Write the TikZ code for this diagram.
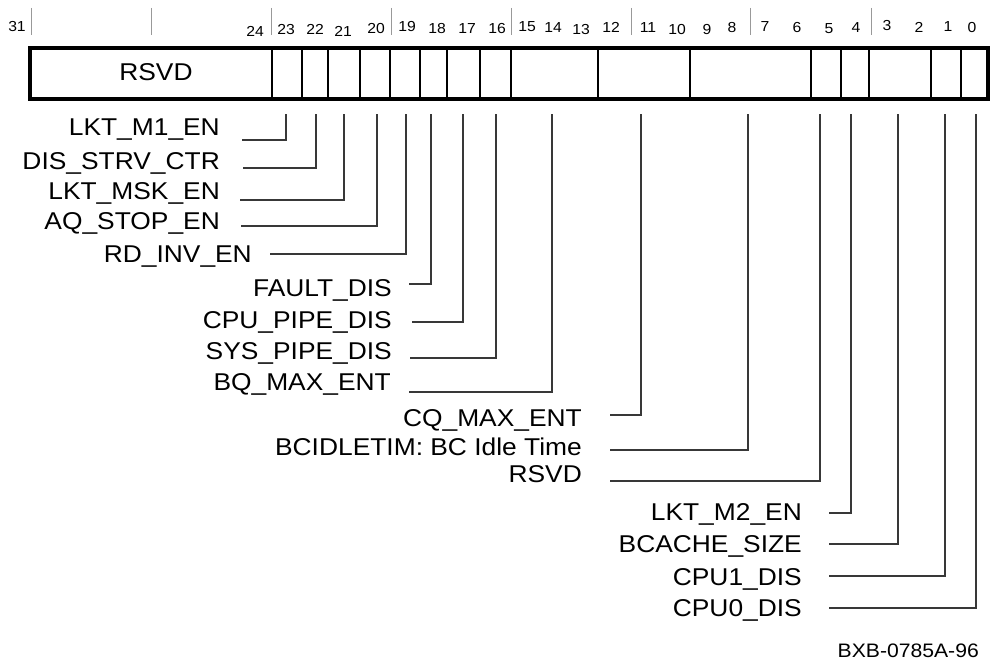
\documentclass[tikz,border=0pt]{standalone}
\usepackage{fontspec}
\setmainfont[FakeStretch=1.085]{Liberation Sans}
\begin{document}
\begin{tikzpicture}[x=1pt,y=-1pt,
  lbl/.style={anchor=base east,inner sep=0pt,font=\fontsize{24.3}{27}\selectfont},
  bitno/.style={anchor=base,inner sep=0pt,font=\fontsize{14.5}{16}\selectfont},
  conn/.style={draw=black!78,line width=1.3pt},
  tickmark/.style={draw=black!40,line width=1pt},
  divider/.style={draw=black,line width=1.2pt},
  outer/.style={draw=black,line width=4pt}]
\useasboundingbox (0,0) rectangle (990,660);

% top tick marks
\foreach \x in {31,151,271,391,511,631,750,871}
  \draw[tickmark] (\x,8) -- (\x,35);

% bit numbers
\foreach \n/\x/\y in {31/17/31.7,24/255/36.7,23/286/35,22/315/35,21/343/36.7,20/376/34,
  19/407/31.7,18/437/33.3,17/467/33.3,16/497/33.3,15/527/31.7,14/553/32.7,13/581/35,
  12/611/32.7,11/648/32.7,10/677/35,9/707/35,8/732/32.7,7/765/31.7,6/797/32.7,
  5/829/33.3,4/856/32.7,3/887/30.7,2/919/32.7,1/948/31.7,0/972/32.7}
  \node[bitno] (n\n) at (\x,\y) {\n};

% register fields
\foreach \x in {272,302,328,360,390,420,447,480,511,598,690,811,841,869,931,961}
  \draw[divider] (\x,48) -- (\x,99.5);
\draw[outer] (29.5,48) rectangle (987.5,99.5);
\node[anchor=base,inner sep=0pt,font=\fontsize{24.3}{27}\selectfont] (rsvdbox) at (156,81) {RSVD};

% field tops
\foreach \b/\x in {23/286,22/316,21/344,20/377,19/406,18/431,17/463,16/496,
  15/552,11/641,9/748,5/820,4/851,3/898,1/945,0/976}
  \coordinate (t\b) at (\x,114);

% labels
\node[lbl] (l23) at (220,136) {LKT\_M1\_EN};
\node[lbl] (l22) at (220,170) {DIS\_STRV\_CTR};
\node[lbl] (l21) at (220,200) {LKT\_MSK\_EN};
\node[lbl] (l20) at (220,230) {AQ\_STOP\_EN};
\node[lbl] (l19) at (252,262) {RD\_INV\_EN};
\node[lbl] (l18) at (392,296) {FAULT\_DIS};
\node[lbl] (l17) at (392,328) {CPU\_PIPE\_DIS};
\node[lbl] (l16) at (392,359) {SYS\_PIPE\_DIS};
\node[lbl] (l15) at (391,390) {BQ\_MAX\_ENT};
\node[lbl] (l11) at (582,426) {CQ\_MAX\_ENT};
\node[lbl] (l9) at (582,455) {BCIDLETIM: BC Idle Time};
\node[lbl] (l5) at (582,482) {RSVD};
\node[lbl] (l4) at (802,520) {LKT\_M2\_EN};
\node[lbl] (l3) at (802,552) {BCACHE\_SIZE};
\node[lbl] (l1) at (802,585) {CPU1\_DIS};
\node[lbl] (l0) at (802,616) {CPU0\_DIS};
\node[anchor=base east,inner sep=0pt,font=\fontsize{19.5}{22}\selectfont] (fig) at (979,657) {BXB-0785A-96};

% connector start points
\foreach \b/\x/\y in {23/242/140,22/243/168,21/240/200,20/241/226,19/270/254,
  18/409/284,17/412/322,16/410/358,15/409/392,11/610/415,9/610/450,5/610/481,
  4/829/513,3/829/544,1/829/576,0/829/608}
  \coordinate (s\b) at (\x,\y);

% connectors
\foreach \b in {23,22,21,20,19,18,17,16,15,11,9,5,4,3,1,0}
  \draw[conn] (s\b) -| (t\b);
\end{tikzpicture}
\end{document}
